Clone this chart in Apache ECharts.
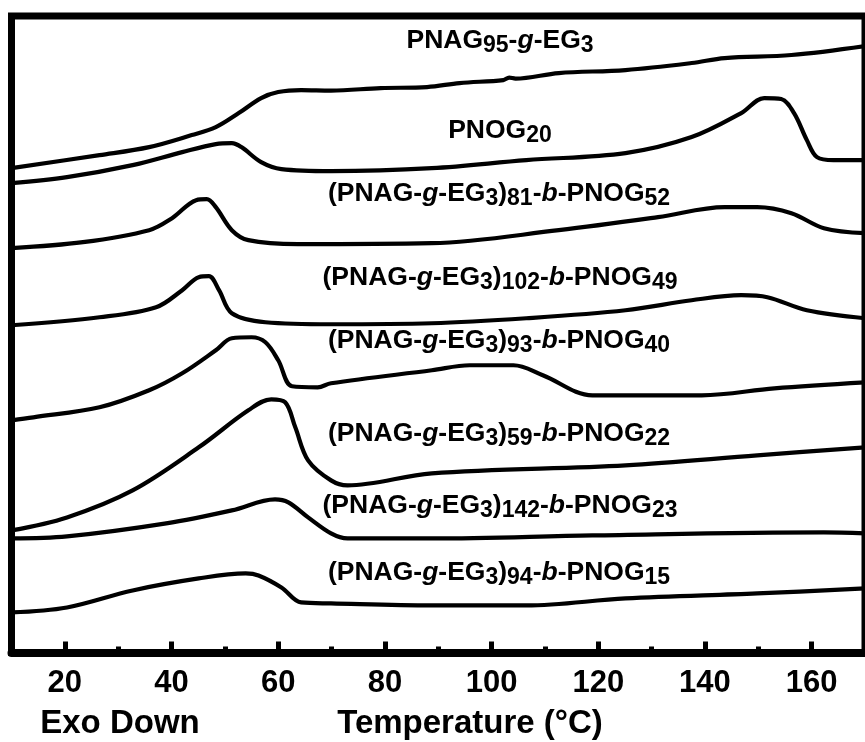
<!DOCTYPE html>
<html>
<head>
<meta charset="utf-8">
<script src="https://cdn.jsdelivr.net/npm/echarts@6/dist/echarts.min.js"></script>
<style>html,body{margin:0;padding:0;background:#fff;}#c{width:865px;height:742px;}</style>
</head>
<body>
<div id="c"></div>
<script>
// ---- data (temperature in °C, heat flow in arbitrary units, curves offset) ----
const majorTicks = [20, 40, 60, 80, 100, 120, 140, 160];
const minorTicks = [30, 50, 70, 90, 110, 130, 150];

const pnag95_T = [10, 26.5, 35.8, 43.8, 48.3, 52.6, 56.8, 60.0, 64.3, 69.9, 79.2, 87.9, 94.0, 102.2, 103.3, 104.5, 112.6, 125.1, 137.5, 143.7, 156.2, 170];
const pnag95_Y = [48.4, 49.7, 50.5, 51.7, 52.5, 53.9, 55.4, 56.0, 56.2, 56.15, 56.4, 56.5, 56.9, 57.2, 57.45, 57.35, 57.9, 58.2, 58.9, 59.4, 59.7, 60.6];

const pnog20_T = [10, 20.4, 32.7, 42.0, 48.3, 51.3, 53.1, 56.8, 60.6, 69.9, 88.8, 106.5, 125.1, 137.5, 146.8, 151.1, 154.3, 156.7, 159.1, 161.0, 164.1, 170];
const pnog20_Y = [46.9, 47.5, 48.7, 50.0, 50.8, 50.9, 50.5, 49.0, 48.3, 48.1, 48.4, 49.2, 49.9, 51.5, 53.9, 55.4, 55.3, 53.9, 51.2, 49.5, 49.2, 49.2];

const b81_52_T = [10, 23.4, 35.8, 40.1, 44.6, 46.6, 48.3, 51.3, 54.4, 63.7, 88.8, 112.6, 131.2, 143.7, 149.8, 156.2, 162.3, 170];
const b81_52_Y = [40.4, 41.0, 42.2, 43.4, 45.2, 45.3, 44.5, 42.2, 41.2, 40.8, 40.9, 42.2, 43.5, 44.5, 44.5, 43.9, 42.4, 41.9];

const b102_49_T = [10, 26.5, 37.1, 42.0, 45.1, 47.0, 48.9, 51.3, 57.6, 69.9, 88.8, 106.5, 125.1, 137.5, 146.8, 151.7, 159.1, 170];
const b102_49_Y = [32.7, 33.5, 34.5, 36.2, 37.5, 37.6, 36.2, 33.9, 33.0, 32.8, 32.9, 33.4, 34.2, 35.2, 35.7, 35.5, 34.2, 33.4];

const b93_40_T = [10, 14.1, 26.5, 35.8, 42.0, 48.3, 51.3, 55.0, 57.6, 60.0, 62.6, 67.4, 69.9, 88.8, 95.9, 104.1, 109.6, 118.9, 133.1, 139.4, 153.0, 170];
const b93_40_Y = [23.2, 23.5, 24.5, 26.2, 27.9, 30.2, 31.4, 31.5, 31.0, 29.2, 26.6, 26.5, 26.9, 28.2, 28.7, 28.7, 27.7, 25.7, 25.7, 25.7, 26.4, 27.0];

const b59_22_T = [10, 20.4, 32.7, 45.1, 54.4, 58.7, 61.3, 63.2, 65.6, 69.9, 73.0, 88.8, 125.1, 149.8, 170];
const b59_22_Y = [12.2, 13.5, 16.2, 20.5, 24.2, 25.3, 25.0, 22.5, 19.2, 17.2, 16.7, 17.9, 18.7, 19.7, 20.5];

const b142_23_T = [10, 20.4, 39.0, 51.3, 59.4, 61.9, 65.6, 69.9, 73.0, 88.8, 118.9, 162.3, 170];
const b142_23_Y = [11.4, 11.6, 12.9, 14.2, 15.3, 15.0, 13.5, 11.9, 11.4, 11.4, 11.7, 12.0, 11.9];

const b94_15_T = [10, 20.4, 32.7, 45.1, 53.9, 56.3, 60.6, 64.3, 69.9, 88.8, 106.5, 125.1, 149.8, 170];
const b94_15_Y = [4.0, 4.5, 6.2, 7.4, 7.9, 7.7, 6.5, 5.0, 4.9, 4.7, 4.7, 5.4, 5.9, 6.4];

const curveNames = ['PNAG95-g-EG3', 'PNOG20', '(PNAG-g-EG3)81-b-PNOG52', '(PNAG-g-EG3)102-b-PNOG49',
  '(PNAG-g-EG3)93-b-PNOG40', '(PNAG-g-EG3)59-b-PNOG22', '(PNAG-g-EG3)142-b-PNOG23', '(PNAG-g-EG3)94-b-PNOG15'];
const curveLabels = [
  '{m|PNAG}{s|95}{m|-}{i|g}{m|-EG}{s|3}',
  '{m|PNOG}{s|20}',
  '{m|(PNAG-}{i|g}{m|-EG}{s|3}{m|)}{s|81}{m|-}{i|b}{m|-PNOG}{s|52}',
  '{m|(PNAG-}{i|g}{m|-EG}{s|3}{m|)}{s|102}{m|-}{i|b}{m|-PNOG}{s|49}',
  '{m|(PNAG-}{i|g}{m|-EG}{s|3}{m|)}{s|93}{m|-}{i|b}{m|-PNOG}{s|40}',
  '{m|(PNAG-}{i|g}{m|-EG}{s|3}{m|)}{s|59}{m|-}{i|b}{m|-PNOG}{s|22}',
  '{m|(PNAG-}{i|g}{m|-EG}{s|3}{m|)}{s|142}{m|-}{i|b}{m|-PNOG}{s|23}',
  '{m|(PNAG-}{i|g}{m|-EG}{s|3}{m|)}{s|94}{m|-}{i|b}{m|-PNOG}{s|15}'
];
const xTitle = 'Temperature (°C)';
const cornerNote = 'Exo Down';

// ---- build ----
const pairs = (T, Y) => T.map((t, i) => [t, Y[i]]);
const curveData = [
  pairs(pnag95_T, pnag95_Y), pairs(pnog20_T, pnog20_Y), pairs(b81_52_T, b81_52_Y), pairs(b102_49_T, b102_49_Y),
  pairs(b93_40_T, b93_40_Y), pairs(b59_22_T, b59_22_Y), pairs(b142_23_T, b142_23_Y), pairs(b94_15_T, b94_15_Y)
];

const FONT = '"Liberation Sans", Arial, Helvetica, sans-serif';
const rich = {
  m: { fontFamily: FONT, fontSize: 26.5, lineHeight: 32, color: '#000', fontWeight: 'bold' },
  i: { fontFamily: FONT, fontSize: 26.5, lineHeight: 32, color: '#000', fontStyle: 'italic', fontWeight: 'bold' },
  s: { fontFamily: FONT, fontSize: 23, lineHeight: 20, color: '#000', verticalAlign: 'bottom', fontWeight: 'bold' }
};
const labelPos = [[500, 41], [500, 131], [499, 194], [500, 278], [499, 341], [499, 434], [500, 506], [499, 573]];

const chart = echarts.init(document.getElementById('c'), null, { renderer: 'canvas' });
const option = {
  animation: false,
  backgroundColor: '#fff',
  grid: { left: 11.5, right: -6.6, top: 16, bottom: 89.5, show: true, borderColor: '#000', borderWidth: 7, backgroundColor: 'transparent' },
  xAxis: [
    {
      type: 'value', min: 10, max: 170, position: 'bottom',
      axisLine: { show: true, lineStyle: { color: '#000', width: 8 } },
      axisTick: { show: true, inside: true, length: 11, customValues: majorTicks, lineStyle: { color: '#000', width: 5 } },
      axisLabel: { customValues: majorTicks, color: '#000', fontFamily: FONT, fontSize: 31, fontWeight: 'bold', margin: 15 },
      splitLine: { show: false }
    },
    {
      type: 'value', min: 10, max: 170, position: 'bottom', offset: 0,
      axisLine: { show: false },
      axisTick: { show: true, inside: true, length: 6, customValues: minorTicks, lineStyle: { color: '#000', width: 5 } },
      axisLabel: { show: false },
      splitLine: { show: false }
    }
  ],
  yAxis: { type: 'value', min: 0, max: 63.6, show: false, splitLine: { show: false } },
  series: curveData.map((d, k) => ({
    name: curveNames[k], type: 'line', data: d, xAxisIndex: 0, showSymbol: false, symbol: 'none',
    smooth: 0.35, clip: true, lineStyle: { color: '#000', width: 4.2, join: 'round', cap: 'round' }
  })),
  graphic: curveLabels.map((t, k) => ({
    type: 'text', x: labelPos[k][0], y: labelPos[k][1], z: 10,
    style: { text: t, rich: rich, align: 'center', verticalAlign: 'middle', textAlign: 'center', textVerticalAlign: 'middle' }
  })).concat([
    { type: 'text', x: 120, y: 724, style: { text: cornerNote, font: 'bold 33px ' + FONT, fill: '#000', align: 'center', verticalAlign: 'middle', textAlign: 'center', textVerticalAlign: 'middle' } },
    { type: 'text', x: 470, y: 724, style: { text: xTitle, font: 'bold 33px ' + FONT, fill: '#000', align: 'center', verticalAlign: 'middle', textAlign: 'center', textVerticalAlign: 'middle' } }
  ])
};
chart.setOption(option);
</script>
</body>
</html>
